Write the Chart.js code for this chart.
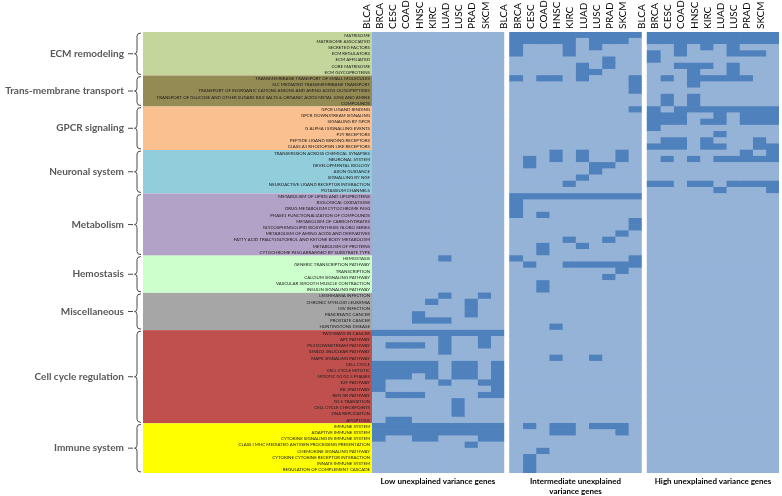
<!DOCTYPE html>
<html>
<head>
<meta charset="utf-8">
<title>Pathway heatmap</title>
<script src="https://cdn.jsdelivr.net/npm/chart.js@4.4.0/dist/chart.umd.min.js"></script>
<style>
  html, body { margin: 0; padding: 0; background: #fff; }
  #wrap { width: 782px; height: 496px; }
</style>
</head>
<body>
<div id="wrap"><canvas id="myChart" width="782" height="496"></canvas></div>
<script>
// columns of each panel
var cancers = ['BLCA', 'BRCA', 'CESC', 'COAD', 'HNSC', 'KIRC', 'LUAD', 'LUSC', 'PRAD', 'SKCM'];
var panelTitles = ['Low unexplained variance genes', ['Intermediate unexplained', 'variance genes'], 'High unexplained variance genes'];

// pathway groups (left brackets)
var groupNames = ['ECM remodeling', 'Trans-membrane transport', 'GPCR signaling', 'Neuronal system', 'Metabolism',
                  'Hemostasis', 'Miscellaneous', 'Cell cycle regulation', 'Immune system'];
var groupSizes = [7, 5, 7, 7, 10, 6, 6, 15, 8];
var groupColors = ['#c3d69b', '#948a54', '#fac090', '#92cddc', '#b3a2c7', '#ccffcc', '#a6a6a6', '#c0504d', '#ffff00'];

// rows
var pathways = [
  'MATRISOME', 'MATRISOME ASSOCIATED', 'SECRETED FACTORS', 'ECM REGULATORS', 'ECM AFFILIATED', 'CORE MATRISOME', 'ECM GLYCOPROTEINS',
  'TRANSMEMBRANE TRANSPORT OF SMALL MOLECULES', 'SLC MEDIATED TRANSMEMBRANE TRANSPORT',
  'TRANSPORT OF INORGANIC CATIONS ANIONS AND AMINO ACIDS OLIGOPEPTIDES',
  'TRANSPORT OF GLUCOSE AND OTHER SUGARS BILE SALTS & ORGANIC ACIDS METAL IONS AND AMINE', 'COMPOUNDS',
  'GPCR LIGAND BINDING', 'GPCR DOWNSTREAM SIGNALING', 'SIGNALING BY GPCR', 'G ALPHA I SIGNALLING EVENTS', 'P2Y RECEPTORS',
  'PEPTIDE LIGAND BINDING RECEPTORS', 'CLASS A1 RHODOPSIN LIKE RECEPTORS',
  'TRANSMISSION ACROSS CHEMICAL SYNAPSES', 'NEURONAL SYSTEM', 'DEVELOPMENTAL BIOLOGY', 'AXON GUIDANCE', 'SIGNALLING BY NGF',
  'NEUROACTIVE LIGAND RECEPTOR INTERACTION', 'POTASSIUM CHANNELS',
  'METABOLISM OF LIPIDS AND LIPOPROTEINS', 'BIOLOGICAL OXIDATIONS', 'DRUG METABOLISM CYTOCHROME P450',
  'PHASE1 FUNCTIONALIZATION OF COMPOUNDS', 'METABOLISM OF CARBOHYDRATES', 'GLYCOSPHINGOLIPID BIOSYNTHESIS GLOBO SERIES',
  'METABOLISM OF AMINO ACIDS AND DERIVATIVES', 'FATTY ACID TRIACYLGLYCEROL AND KETONE BODY METABOLISM',
  'METABOLISM OF PROTEINS', 'CYTOCHROME P450 ARRANGED BY SUBSTRATE TYPE',
  'HEMOSTASIS', 'GENERIC TRANSCRIPTION PATHWAY', 'TRANSCRIPTION', 'CALCIUM SIGNALING PATHWAY',
  'VASCULAR SMOOTH MUSCLE CONTRACTION', 'INSULIN SIGNALING PATHWAY',
  'LEISHMANIA INFECTION', 'CHRONIC MYELOID LEUKEMIA', 'HIV INFECTION', 'PANCREATIC CANCER', 'PROSTATE CANCER', 'HUNTINGTONS DISEASE',
  'PATHWAYS IN CANCER', 'AP1 PATHWAY', 'P53 DOWNSTREAM PATHWAY', 'SMAD2 3NUCLEAR PATHWAY', 'MAPK SIGNALING PATHWAY',
  'CELL CYCLE', 'CELL CYCLE MITOTIC', 'MITOTIC G1 G1 S PHASES', 'E2F PATHWAY', 'RB 1PATHWAY', 'REG GR PATHWAY',
  'G1 S TRANSITION', 'CELL CYCLE CHECKPOINTS', 'DNA REPLICATION', 'APOPTOSIS',
  'IMMUNE SYSTEM', 'ADAPTIVE IMMUNE SYSTEM', 'CYTOKINE SIGNALING IN IMMUNE SYSTEM',
  'CLASS I MHC MEDIATED ANTIGEN PROCESSING PRESENTATION', 'CHEMOKINE SIGNALING PATHWAY',
  'CYTOKINE CYTOKINE RECEPTOR INTERACTION', 'INNATE IMMUNE SYSTEM', 'REGULATION OF COMPLEMENT CASCADE'
];

// 1 = enriched (dark cell), one string per row, one char per cancer
var lowGenes = [
  '0000000000','0000000000','0000000000','0000000000','0000000000','0000000000','0000000000',
  '0000000000','0000000000','0000000000','0000000000','0000000000',
  '0000000000','0000000000','0000000000','0000000000','0000000000','0000000000','0000000000',
  '0000000000','0000000000','0000000000','0000000000','0000000000','0000000000','0000000000',
  '0000000000','0000000000','0000000000','0000000000','0000000000','0000000000','0000000000','0000000000','0000000000','0000000000',
  '0000010000','0000000000','0000000000','0000000000','0000000000','0000000000',
  '0000010010','0000100100','0000000100','0001000100','0001110000','0000000000',
  '1111111111','0000010010','0111010010','0000010000','0000000000','1111101101','1111101101','1110101101',
  '1000010011','1000000001','0111000011','0000001000','0000001000','0000001000','0110000000',
  '1111111111','1111111111','1001100011','0000000100','0000000000','0000000000','0000000000','0000000000'
];
var intermediateGenes = [
  '1111111111','1111101110','1000101000','1000100000','0000000100','0000010100','0000011000',
  '1011010001','0000000001','0000000001','0000000000','0000000000',
  '0000000001','0000000000','0000000000','0000000000','0000000000','0000000000','0000000000',
  '0001010010','0101010010','0100001100','0000001000','0000010000','0000100000','0000000000',
  '1111111111','1000000000','1000000000','1010000000','0000000001','0000000001','0000000010','0000100100','0010010000','0010000000',
  '1000000001','0100111111','0000000010','0000000100','0010000000','0010000000',
  '0000000000','0000000000','0000000000','0000000000','0000000000','0001000000',
  '0000000000','0000000000','0000000000','0000000000','0001001000','0000000000','0000000000','0000000000',
  '0000000000','0000000000','0000000000','0000000000','0000000000','0000000000','0000000000',
  '0101101110','0001100010','0000000000','0000000000','0010000000','0100000000','0100000000','0100000000'
];
var highGenes = [
  '1111111111','1111111111','0010101000','1010001110','1000000000','0011101000','0001001000',
  '0101111100','0001000000','0000000000','0101000000','0101000000',
  '1011111111','1110010111','1110110111','1000000000','0000010000','0110100010','1110110011',
  '0000000101','0101011111','0000000000','0000000000','0000000000','1101101111','0000010001',
  '0000000000','0000000000','0000000000','0000000000','0000000000','0000000000','0000000000','0000000000','0000000000','0000000000',
  '0000000000','0000000000','0000000000','0000000000','0000000000','0000000000',
  '0000000000','0000000000','0000000000','0000000000','0000000000','0000000000',
  '0000000000','0000000000','0000000000','0000000000','0000000000','0000000000','0000000000','0000000000',
  '0000000000','0000000000','0000000000','0000000000','0000000000','0000000000','0000000000',
  '0000000000','0000000000','0000000000','0000000000','0000000000','0000000000','0000000000','0000000000'
];

var panels = [lowGenes, intermediateGenes, highGenes];
var lightBlue = '#95b3d7';
var darkBlue = '#4f81bd';
var panelGap = 0.43;           // white gap between panels, in columns
var xMax = 30 + 2 * panelGap;

// one bar dataset per column of each panel
var datasets = [];
panels.forEach(function(panel, p) {
  cancers.forEach(function(name, c) {
    var x0 = p * (10 + panelGap) + c;
    datasets.push({
      label: name,
      data: panel.map(function() { return [x0, x0 + 1]; }),
      backgroundColor: panel.map(function(row) { return row[c] === '1' ? darkBlue : lightBlue; }),
      borderWidth: 0,
      grouped: false,
      barPercentage: 1,
      categoryPercentage: 1
    });
  });
});

/*
# group colour bands, brackets and names on the left
*/
var groupPlugin = {
  id: 'groups',
  bands: function(chart) {
    var y = chart.scales.y;
    var half = (y.getPixelForValue(1) - y.getPixelForValue(0)) / 2;
    var out = [], start = 0;
    groupSizes.forEach(function(n) {
      out.push([y.getPixelForValue(start) - half, y.getPixelForValue(start + n - 1) + half]);
      start += n;
    });
    return out;
  },
  beforeDraw: function(chart) {
    var ctx = chart.ctx, left = chart.chartArea.left;
    this.bands(chart).forEach(function(b, g) {
      ctx.fillStyle = groupColors[g];
      ctx.fillRect(143, b[0], left - 143, b[1] - b[0]);
    });
  },
  afterDraw: function(chart) {
    var ctx = chart.ctx;
    ctx.save();
    this.bands(chart).forEach(function(b, g) {
      var top = b[0] + 1, bottom = b[1] - 1, mid = (b[0] + b[1]) / 2;
      ctx.strokeStyle = '#4a4a4a';
      ctx.lineWidth = 1;
      ctx.beginPath();
      ctx.moveTo(141, top);
      ctx.quadraticCurveTo(137, top, 137, top + 3);
      ctx.lineTo(137, mid - 3);
      ctx.quadraticCurveTo(137, mid, 134.5, mid);
      ctx.quadraticCurveTo(137, mid, 137, mid + 3);
      ctx.lineTo(137, bottom - 3);
      ctx.quadraticCurveTo(137, bottom, 141, bottom);
      ctx.stroke();
      ctx.beginPath();
      ctx.moveTo(128, mid);
      ctx.lineTo(133, mid);
      ctx.stroke();
      ctx.font = 'bold 10px Lato';
      ctx.fillStyle = '#595959';
      ctx.textAlign = 'right';
      ctx.textBaseline = 'middle';
      ctx.fillText(groupNames[g], 124, mid);
    });
    ctx.restore();
  }
};

var ctx = document.getElementById('myChart').getContext('2d');
var chart = new Chart(ctx, {
  type: 'bar',
  data: { labels: pathways, datasets: datasets },
  options: {
    indexAxis: 'y',
    responsive: false,
    animation: false,
    layout: { padding: { left: 0, right: 3, top: 0, bottom: 0 } },
    plugins: { legend: { display: false }, tooltip: { enabled: false } },
    scales: {
      x: {
        type: 'linear', position: 'top', min: 0, max: xMax,
        grid: { display: false, drawTicks: false }, border: { display: false },
        afterBuildTicks: function(s) {
          s.ticks = [];
          for (var p = 0; p < 3; p++)
            for (var c = 0; c < 10; c++) s.ticks.push({ value: p * (10 + panelGap) + c + 0.5 });
        },
        afterFit: function(s) { s.height = 32; },
        ticks: {
          autoSkip: false, minRotation: 90, maxRotation: 90, padding: 3, color: '#000',
          font: { family: 'Lato', size: 10 },
          callback: function(v, i) { return cancers[i % 10]; }
        }
      },
      x2: {
        type: 'linear', position: 'bottom', min: 0, max: xMax,
        grid: { display: false, drawTicks: false }, border: { display: false },
        afterBuildTicks: function(s) {
          s.ticks = [0, 1, 2].map(function(p) { return { value: p * (10 + panelGap) + 5 }; });
        },
        afterFit: function(s) { s.height = 23; },
        ticks: {
          autoSkip: false, maxRotation: 0, minRotation: 0, padding: 3, color: '#000',
          font: { family: 'Lato', size: 8, weight: 'bold', lineHeight: 1.25 },
          callback: function(v, i) { return panelTitles[i]; }
        }
      },
      y: {
        type: 'category', position: 'left',
        grid: { display: false, drawTicks: false }, border: { display: false },
        afterFit: function(s) { s.width = 372; },
        ticks: {
          autoSkip: false, padding: 2, color: '#1a1a1a',
          font: { family: 'Lato', size: 4.4 }
        }
      }
    }
  },
  plugins: [groupPlugin]
});
</script>
</body>
</html>
